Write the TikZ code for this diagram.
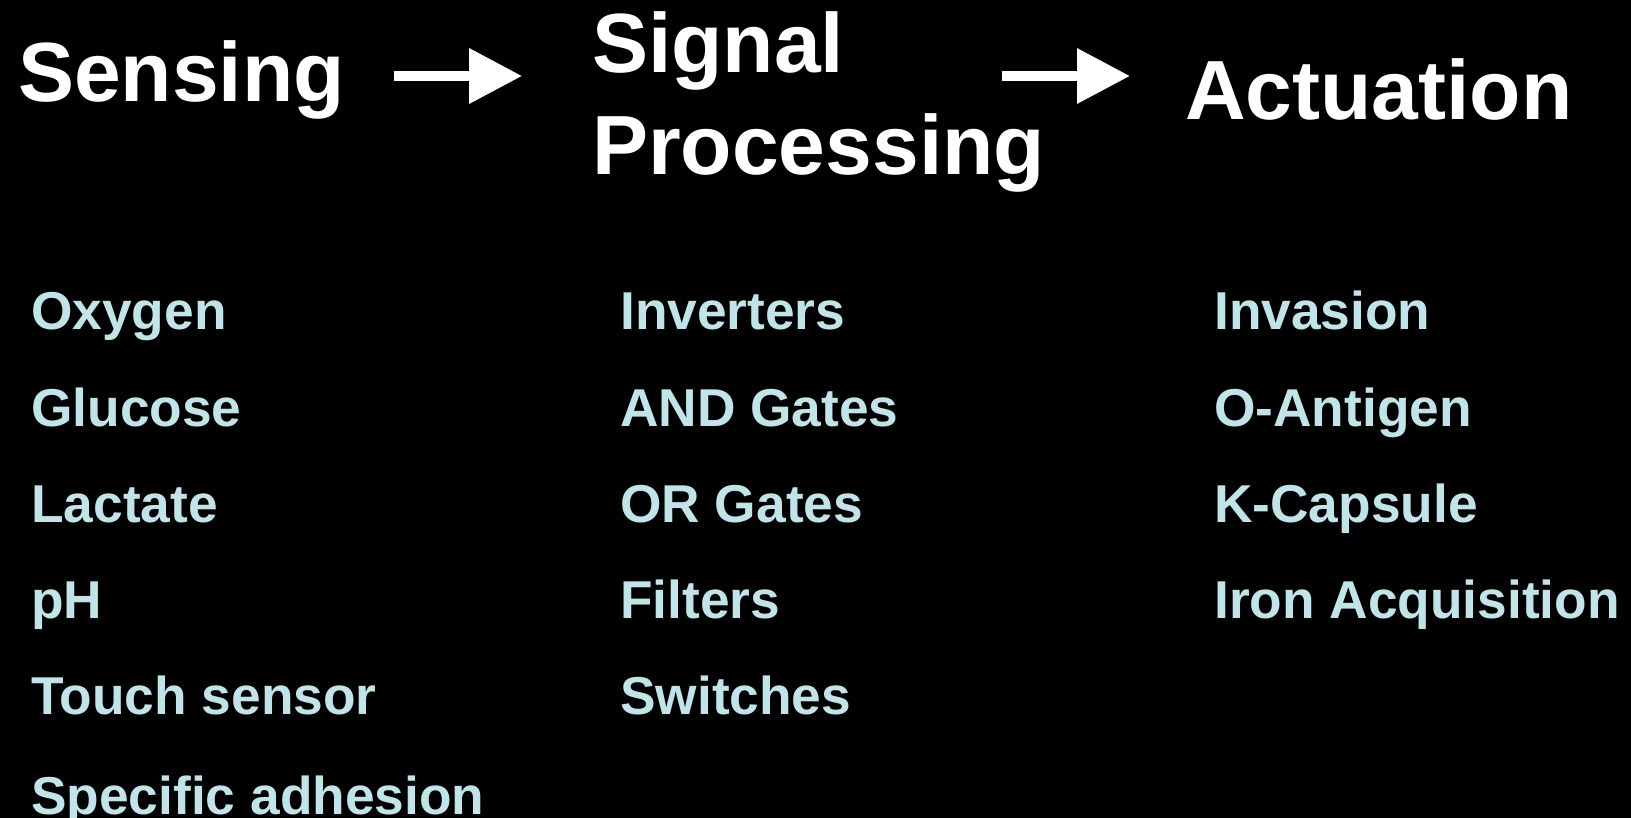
\documentclass[tikz,border=0pt]{standalone}
\usepackage{fontspec}
\setmainfont{Liberation Sans}
\usetikzlibrary{arrows.meta, positioning}
\definecolor{itemblue}{RGB}{192,228,232}

\begin{document}
\begin{tikzpicture}[
      x=1pt, y=-1pt,
      node distance = 46.6pt,
      head/.style  = {inner sep=0pt, anchor=base west, text=white, align=left,
                      font=\fontsize{84}{102}\selectfont\bfseries},
      item/.style  = {inner sep=0pt, anchor=base west, text=itemblue,
                      text height=38pt, text depth=11pt,
                      font=\fontsize{53.3}{62}\selectfont\bfseries},
      bigarrow/.style = {-{Triangle[length=53pt, width=53pt]}, line width=10pt, white}
    ]

    % background
    \useasboundingbox (0,0) rectangle (1631,818);
    \fill[black] (0,0) rectangle (1631,818);

    % ---- headings ----
    \node[head] (sensing)   at (18,102)   {Sensing};
    \node[head] (signal)    at (592,175)  {Signal\\Processing};
    \node[head] (actuation) at (1185,120) {Actuation};

    % ---- block arrows ----
    \draw[bigarrow] ([shift={(49,-26)}]sensing.base east) -- ++(128,0);
    \draw[bigarrow] ([shift={(-183,-44)}]actuation.base west) -- ++(128,0);

    % ---- sensing column ----
    \node[item] (oxygen)  at (31,330)        {Oxygen};
    \node[item, below=of oxygen.south west, anchor=north west]  (glucose) {Glucose};
    \node[item, below=of glucose.south west, anchor=north west] (lactate) {Lactate};
    \node[item, below=of lactate.south west, anchor=north west] (ph)      {pH};
    \node[item, below=of ph.south west, anchor=north west]      (touch)   {Touch sensor};
    \node[item, below=51pt of touch.south west, anchor=north west] (adhesion) {Specific adhesion};

    % ---- signal processing column ----
    \node[item] (inverters) at (620,330)     {Inverters};
    \node[item, below=of inverters.south west, anchor=north west] (andgates) {AND Gates};
    \node[item, below=of andgates.south west, anchor=north west]  (orgates)  {OR Gates};
    \node[item, below=of orgates.south west, anchor=north west]   (filters)  {Filters};
    \node[item, below=of filters.south west, anchor=north west]   (switches) {Switches};

    % ---- actuation column ----
    \node[item] (invasion) at (1214,330)     {Invasion};
    \node[item, below=of invasion.south west, anchor=north west] (oantigen) {O-Antigen};
    \node[item, below=of oantigen.south west, anchor=north west] (kcapsule) {K-Capsule};
    \node[item, below=of kcapsule.south west, anchor=north west] (iron)     {Iron Acquisition};

  \end{tikzpicture}
\end{document}
